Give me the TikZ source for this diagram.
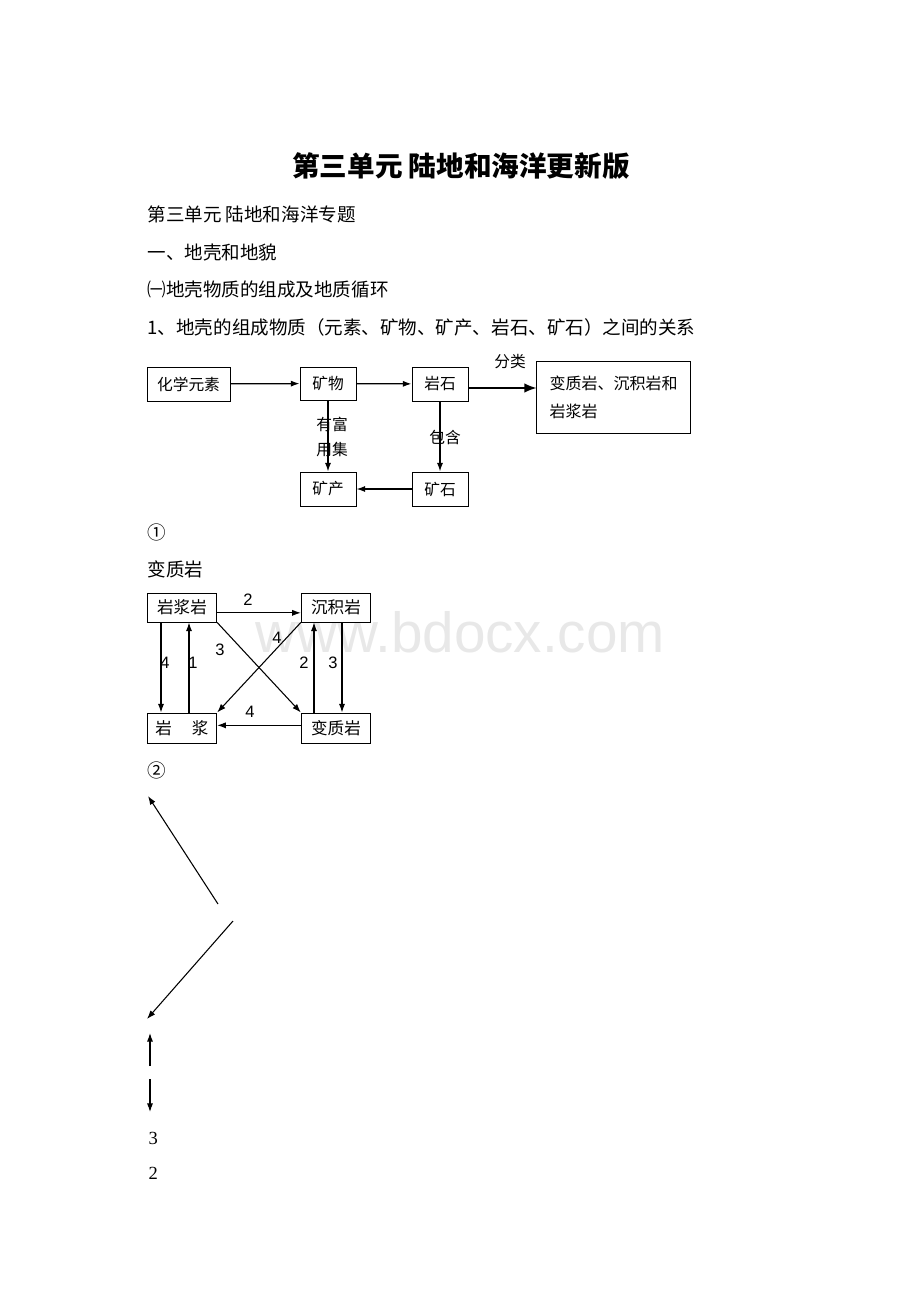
\documentclass[tikz,border=0pt]{standalone}
\usepackage{fontspec}
\setmainfont{Liberation Serif}
\newfontfamily\cjk{Noto Sans CJK SC}
\newfontfamily\arial{Liberation Sans}
\usetikzlibrary{arrows.meta}

\begin{document}
\begin{tikzpicture}[x=0.75pt, y=-0.75pt, line width=0.95pt,
    >={Latex[length=6.5pt,width=4.6pt]},
    para/.style={anchor=west, inner sep=0pt, font=\cjk\fontsize{13.9}{16}\selectfont},
    box/.style={draw, line width=0.75pt, inner sep=0pt, minimum width=42pt, minimum height=25.5pt, font=\cjk\fontsize{11.8}{14}\selectfont},
    rock/.style={draw, line width=0.75pt, inner sep=0pt, minimum width=52pt, minimum height=21.75pt, font=\cjk\fontsize{12.4}{14}\selectfont},
    lbl/.style={inner sep=0pt, font=\cjk\fontsize{11.8}{18.75}\selectfont},
    num/.style={inner sep=0pt, font=\arial\fontsize{12.4}{14}\selectfont},
    digit/.style={anchor=west, inner sep=0pt, font=\fontsize{13.9}{16}\selectfont},
    thin/.style={line width=0.8pt}
  ]
  \useasboundingbox (0, 0) rectangle (920, 1302);
  \node [anchor=base west, inner sep=0pt, text=black!9, font=\arial\fontsize{42.5}{48}\selectfont] (mark) at (255, 652) {www.bdocx.com};

  \node [font=\cjk\bfseries\fontsize{20.7}{24}\selectfont] (title) at (461, 166) {第三单元 陆地和海洋更新版};
  \node [para] (zhuanti) at (147, 214) {第三单元 陆地和海洋专题};
  \node [para] (diqiao) at (147, 252) {一、地壳和地貌};
  \node [para] (zucheng) at (147, 289) {㈠地壳物质的组成及地质循环};
  \node [para] (guanxi) at (147, 327) {1、地壳的组成物质（元素、矿物、矿产、岩石、矿石）之间的关系};

  \node [box, minimum width=62.25pt] (yuansu) at (188.5, 384) {化学元素};
  \node [box, minimum height=24.75pt] (kuangwu) at (328, 383.5) {矿物};
  \node [box] (yanshi) at (440, 384) {岩石};
  \node [box, minimum width=114.75pt, minimum height=54pt, text width=96pt, align=left, inner xsep=9.4pt, font=\cjk\fontsize{12}{21}\selectfont] (leibie) at (613.5, 397) {变质岩、沉积岩和\\岩浆岩};
  \node [box] (kuangchan) at (328, 489) {矿产};
  \node [box] (kuangshi) at (440, 489) {矿石};

  \draw [->] (yuansu) -- (kuangwu);
  \draw [->] (kuangwu) -- (yanshi);
  \draw [-{Latex[length=9pt,width=7pt]}] ([yshift=-3pt]yanshi.east) -- ([yshift=-3pt]yanshi.east -| leibie.west);
  \draw [->] (kuangwu) -- (kuangchan);
  \draw [->] (yanshi) -- (kuangshi);
  \draw [->] (kuangshi) -- (kuangchan);

  \node [lbl] (fenlei) at (510, 362) {分类};
  \node [lbl, align=center] (fuji) at (332, 437) {有富\\用集};
  \node [lbl] (baohan) at (445, 437) {包含};

  \node [para] (quan1) at (147, 532) {①};
  \node [para] (bianzhi) at (147, 569) {变质岩};

  \node [rock] (yjy) at (182, 607.5) {岩浆岩};
  \node [rock] (cjy) at (336, 607.5) {沉积岩};
  \node [rock, minimum height=22.5pt] (yj) at (182, 728) {岩\hspace{15pt}浆};
  \node [rock, minimum height=22.5pt] (bzy) at (336, 728) {变质岩};

  \draw [->, thin] ([yshift=-4pt]yjy.east) -- ([yshift=-4pt]cjy.west);
  \draw [->, thin] ([xshift=-15.75pt]yjy.south) -- ([xshift=-15.75pt]yj.north);
  \draw [->, thin] ([xshift=5.25pt]yj.north) -- ([xshift=5.25pt]yjy.south);
  \draw [->, thin] ([xshift=-16.5pt]bzy.north) -- ([xshift=-16.5pt]cjy.south);
  \draw [->, thin] ([xshift=4.5pt]cjy.south) -- ([xshift=4.5pt]bzy.north);
  \draw [->, thin] ([yshift=2pt]bzy.west) -- ([yshift=2pt]yj.east);
  \draw [->, thin] (yjy.south east) -- (bzy.north west);
  \draw [->, thin] (cjy.south west) -- (yj.north east);

  \node [num] (a2) at (248, 600) {2};
  \node [num] (l4) at (165, 663) {4};
  \node [num] (l1) at (193, 663) {1};
  \node [num] (r2) at (304, 663) {2};
  \node [num] (r3) at (333, 663) {3};
  \node [num] (b4) at (250, 712) {4};
  \node [num] (x3) at (220, 650) {3};
  \node [num] (x4) at (277, 638) {4};

  \node [para] (quan2) at (147, 770) {②};
  \coordinate (p1) at (218, 904);
  \coordinate (q1) at (148, 796);
  \coordinate (p2) at (233, 921);
  \coordinate (q2) at (147, 1019);
  \coordinate (p3) at (150, 1066);
  \coordinate (q3) at (150, 1033);
  \coordinate (p4) at (150, 1079);
  \coordinate (q4) at (150, 1112);
  \draw [->, thin] (p1) -- (q1);
  \draw [->, thin] (p2) -- (q2);
  \draw [->, thin] (p3) -- (q3);
  \draw [->, thin] (p4) -- (q4);
  \node [digit] (n3) at (148, 1138) {3};
  \node [digit] (n2) at (148, 1173) {2};
\end{tikzpicture}
\end{document}
